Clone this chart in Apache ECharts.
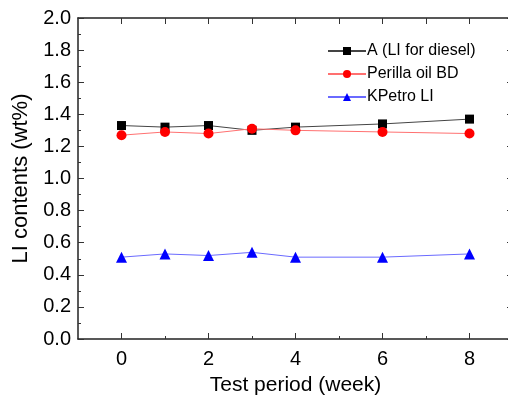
<!DOCTYPE html>
<html>
<head>
<meta charset="utf-8">
<script src="https://cdn.jsdelivr.net/npm/echarts@6/dist/echarts.min.js"></script>
<style>
  html, body { margin: 0; padding: 0; background: #fff; }
  #main { width: 508px; height: 400px; }
</style>
</head>
<body>
<div id="main"></div>
<script>
// test period in weeks
var weeks = [0, 1, 2, 3, 4, 6, 8];
// LI contents (wt%)
var liDiesel = [1.33, 1.32, 1.33, 1.30, 1.32, 1.34, 1.37];
var perilla = [1.27, 1.29, 1.28, 1.31, 1.30, 1.29, 1.28];
var kpetro = [0.51, 0.53, 0.52, 0.54, 0.51, 0.51, 0.53];

var xLabels = [0, 2, 4, 6, 8];
var xMinor = [1, 3, 5, 7];
var xTop = [0, 1, 2, 3, 4, 5, 6, 7, 8];

function pairs(ys) {
    return weeks.map(function (w, i) { return [w, ys[i]]; });
}

var font = 'Liberation Sans, Arial, sans-serif';
var axisCol = '#222';
var tickCol = '#333';

var myChart = echarts.init(document.getElementById('main'));

option = {
    animation: false,
    textStyle: { fontFamily: font },
    grid: { left: 78, right: -5, top: 18, bottom: 61, containLabel: false, outerBoundsMode: 'none' },
    legend: {
        orient: 'vertical',
        left: 322,
        top: 37,
        itemWidth: 38,
        itemHeight: 10,
        itemGap: 5,
        textStyle: { fontFamily: font, fontSize: 16, color: '#000', lineHeight: 18, padding: [0, 0, 0, -4] },
        data: ['A (LI for diesel)', 'Perilla oil BD', 'KPetro LI']
    },
    xAxis: [{
        type: 'value', position: 'bottom', min: -1, max: 9,
        name: 'Test period (week)', nameLocation: 'middle', nameGap: 36,
        nameTextStyle: { fontFamily: font, fontSize: 21, color: '#000' },
        splitLine: { show: false },
        axisLine: { show: true, onZero: false, lineStyle: { color: axisCol, width: 1.5 } },
        axisTick: { show: true, inside: true, length: 6, customValues: xLabels, lineStyle: { color: tickCol, width: 1 } },
        axisLabel: { customValues: xLabels, margin: 10, fontSize: 20, color: '#000', fontFamily: font }
    }, {
        type: 'value', position: 'bottom', min: -1, max: 9,
        splitLine: { show: false },
        axisLine: { show: false, onZero: false },
        axisTick: { show: true, inside: true, length: 3, customValues: xMinor, lineStyle: { color: tickCol, width: 1 } },
        axisLabel: { show: false }
    }, {
        type: 'value', position: 'top', min: -1, max: 9,
        splitLine: { show: false },
        axisLine: { show: true, onZero: false, lineStyle: { color: axisCol, width: 1.5 } },
        axisTick: { show: true, inside: true, length: 6, customValues: xTop, lineStyle: { color: tickCol, width: 1 } },
        axisLabel: { show: false }
    }],
    yAxis: [{
        type: 'value', position: 'left', min: 0, max: 2, interval: 0.2,
        name: 'LI contents (wt%)', nameLocation: 'middle', nameGap: 41,
        nameTextStyle: { fontFamily: font, fontSize: 22, color: '#000' },
        splitLine: { show: false },
        axisLine: { show: true, onZero: false, lineStyle: { color: axisCol, width: 1.5 } },
        axisTick: { show: true, inside: true, length: 6, lineStyle: { color: tickCol, width: 1 } },
        minorTick: { show: true, splitNumber: 2, length: 3, lineStyle: { color: tickCol, width: 1 } },
        axisLabel: {
            margin: 7, fontSize: 20, color: '#000', fontFamily: font,
            formatter: function (v) { return v.toFixed(1); }
        }
    }, {
        type: 'value', position: 'right', min: 0, max: 2, interval: 0.2,
        splitLine: { show: false },
        axisLine: { show: true, onZero: false, lineStyle: { color: axisCol, width: 1.5 } },
        axisTick: { show: true, inside: true, length: 6, lineStyle: { color: tickCol, width: 1 } },
        axisLabel: { show: false }
    }],
    series: [{
        name: 'A (LI for diesel)', type: 'line', data: pairs(liDiesel),
        symbol: 'rect', symbolSize: 9,
        itemStyle: { color: '#000' },
        lineStyle: { color: '#444', width: 1 }
    }, {
        name: 'Perilla oil BD', type: 'line', data: pairs(perilla),
        symbol: 'circle', symbolSize: 10,
        itemStyle: { color: '#ff0000' },
        lineStyle: { color: '#ff7070', width: 1 }
    }, {
        name: 'KPetro LI', type: 'line', data: pairs(kpetro),
        symbol: 'triangle', symbolSize: 11,
        itemStyle: { color: '#0000ff' },
        lineStyle: { color: '#6a6aff', width: 1 }
    }]
};

if (option && typeof option === "object") {
    myChart.setOption(option, true);
}
</script>
</body>
</html>
